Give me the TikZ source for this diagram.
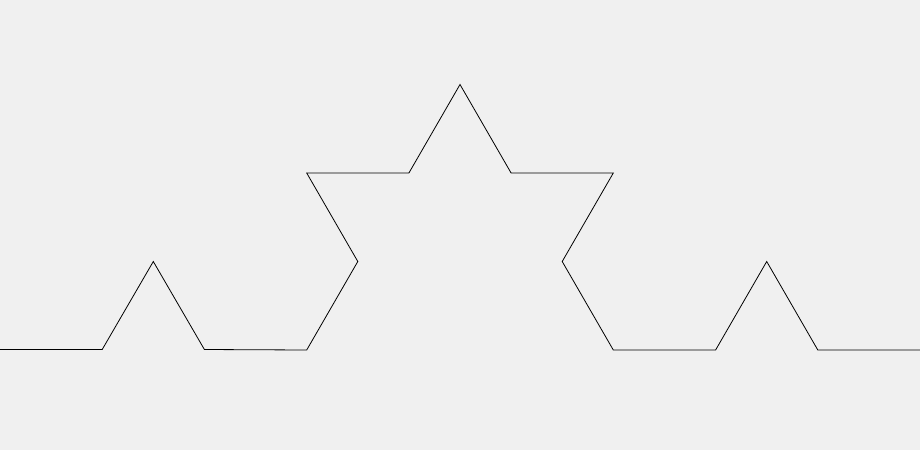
\documentclass[tikz,border=0pt]{standalone}
\definecolor{bg}{HTML}{F0F0F0}
\begin{document}
\begin{tikzpicture}[x=1pt,y=-1pt,koch/.style={draw=black,line width=0.8pt,line join=miter}]
\fill[bg] (0,0) rectangle (920,450);
\useasboundingbox (0,0) rectangle (920,450);
\draw[koch] (0,349.5) -- (102.2,349.5) -- (153.3,261.5) -- (204.4,349.5) -- (306.7,350) -- (357.8,261.5) -- (306.7,173) -- (408.9,173) -- (460,84.5) -- (511.1,173) -- (613.3,173) -- (562.2,261.5) -- (613.3,350) -- (715.6,350) -- (766.7,261.5) -- (817.8,350) -- (920,350);
\end{tikzpicture}
\end{document}
